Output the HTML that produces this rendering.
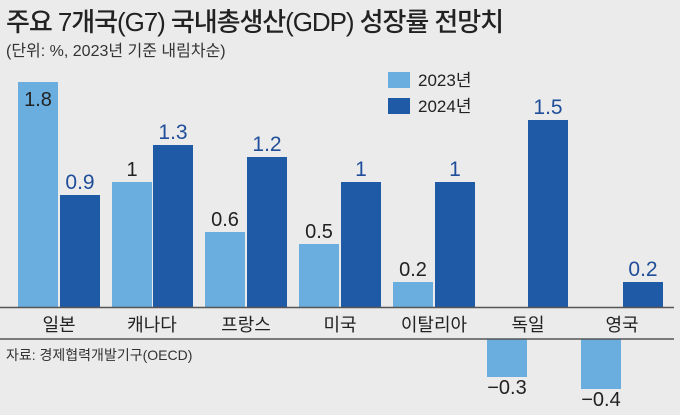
<!DOCTYPE html>
<html><head><meta charset="utf-8"><style>
body{margin:0;background:#ebebeb;}
svg{display:block;font-family:"Liberation Sans","Noto Sans CJK KR",sans-serif;}
</style></head><body>
<svg width="680" height="415" viewBox="0 0 680 415">
<rect width="680" height="415" fill="#ebebeb"/>
<text x="6" y="31" font-size="26" fill="#222" font-weight="500" textLength="498">주요 7개국(G7) 국내총생산(GDP) 성장률 전망치</text>
<text x="6" y="56" font-size="16" fill="#333">(단위: %, 2023년 기준 내림차순)</text>
<rect x="388" y="72" width="22" height="16" fill="#6aaee0"/>
<text x="418" y="86" font-size="17" fill="#222">2023년</text>
<rect x="388" y="98" width="22" height="16" fill="#1f5aa6"/>
<text x="418" y="112" font-size="17" fill="#222">2024년</text>
<g fill="#6aaee0">
<rect x="18" y="82" width="40" height="225"/>
<rect x="112" y="182" width="40" height="125"/>
<rect x="205" y="232" width="40" height="75"/>
<rect x="299" y="244" width="40" height="63"/>
<rect x="393" y="282" width="40" height="25"/>
<rect x="487" y="339" width="40" height="38"/>
<rect x="581" y="339" width="40" height="50"/>
</g>
<g fill="#1f5aa6">
<rect x="60" y="195" width="40" height="112"/>
<rect x="153" y="145" width="40" height="162"/>
<rect x="247" y="157" width="40" height="150"/>
<rect x="341" y="182" width="40" height="125"/>
<rect x="435" y="182" width="40" height="125"/>
<rect x="528" y="120" width="40" height="187"/>
<rect x="623" y="282" width="40" height="25"/>
</g>
<g font-size="20" fill="#222" text-anchor="middle">
<text x="38" y="106">1.8</text>
<text x="132" y="176">1</text>
<text x="225" y="226">0.6</text>
<text x="319" y="238">0.5</text>
<text x="413" y="276">0.2</text>
<text x="507" y="394">−0.3</text>
<text x="601" y="406">−0.4</text>
</g>
<g font-size="21" fill="#1f4e9a" text-anchor="middle">
<text x="80" y="189">0.9</text>
<text x="173" y="139">1.3</text>
<text x="267" y="151">1.2</text>
<text x="361" y="176">1</text>
<text x="455" y="176">1</text>
<text x="548" y="114">1.5</text>
<text x="643" y="276">0.2</text>
</g>
<line x1="0" y1="307.5" x2="674" y2="307.5" stroke="#555" stroke-width="1.5"/>
<line x1="0" y1="339" x2="674" y2="339" stroke="#555" stroke-width="1.5"/>
<g font-size="18" fill="#222" text-anchor="middle">
<text x="59" y="331">일본</text>
<text x="152" y="331">캐나다</text>
<text x="246" y="331">프랑스</text>
<text x="340" y="331">미국</text>
<text x="434" y="331">이탈리아</text>
<text x="528" y="331">독일</text>
<text x="622" y="331">영국</text>
</g>
<text x="6" y="360" font-size="14" fill="#333">자료: 경제협력개발기구(OECD)</text>
</svg>
</body></html>
